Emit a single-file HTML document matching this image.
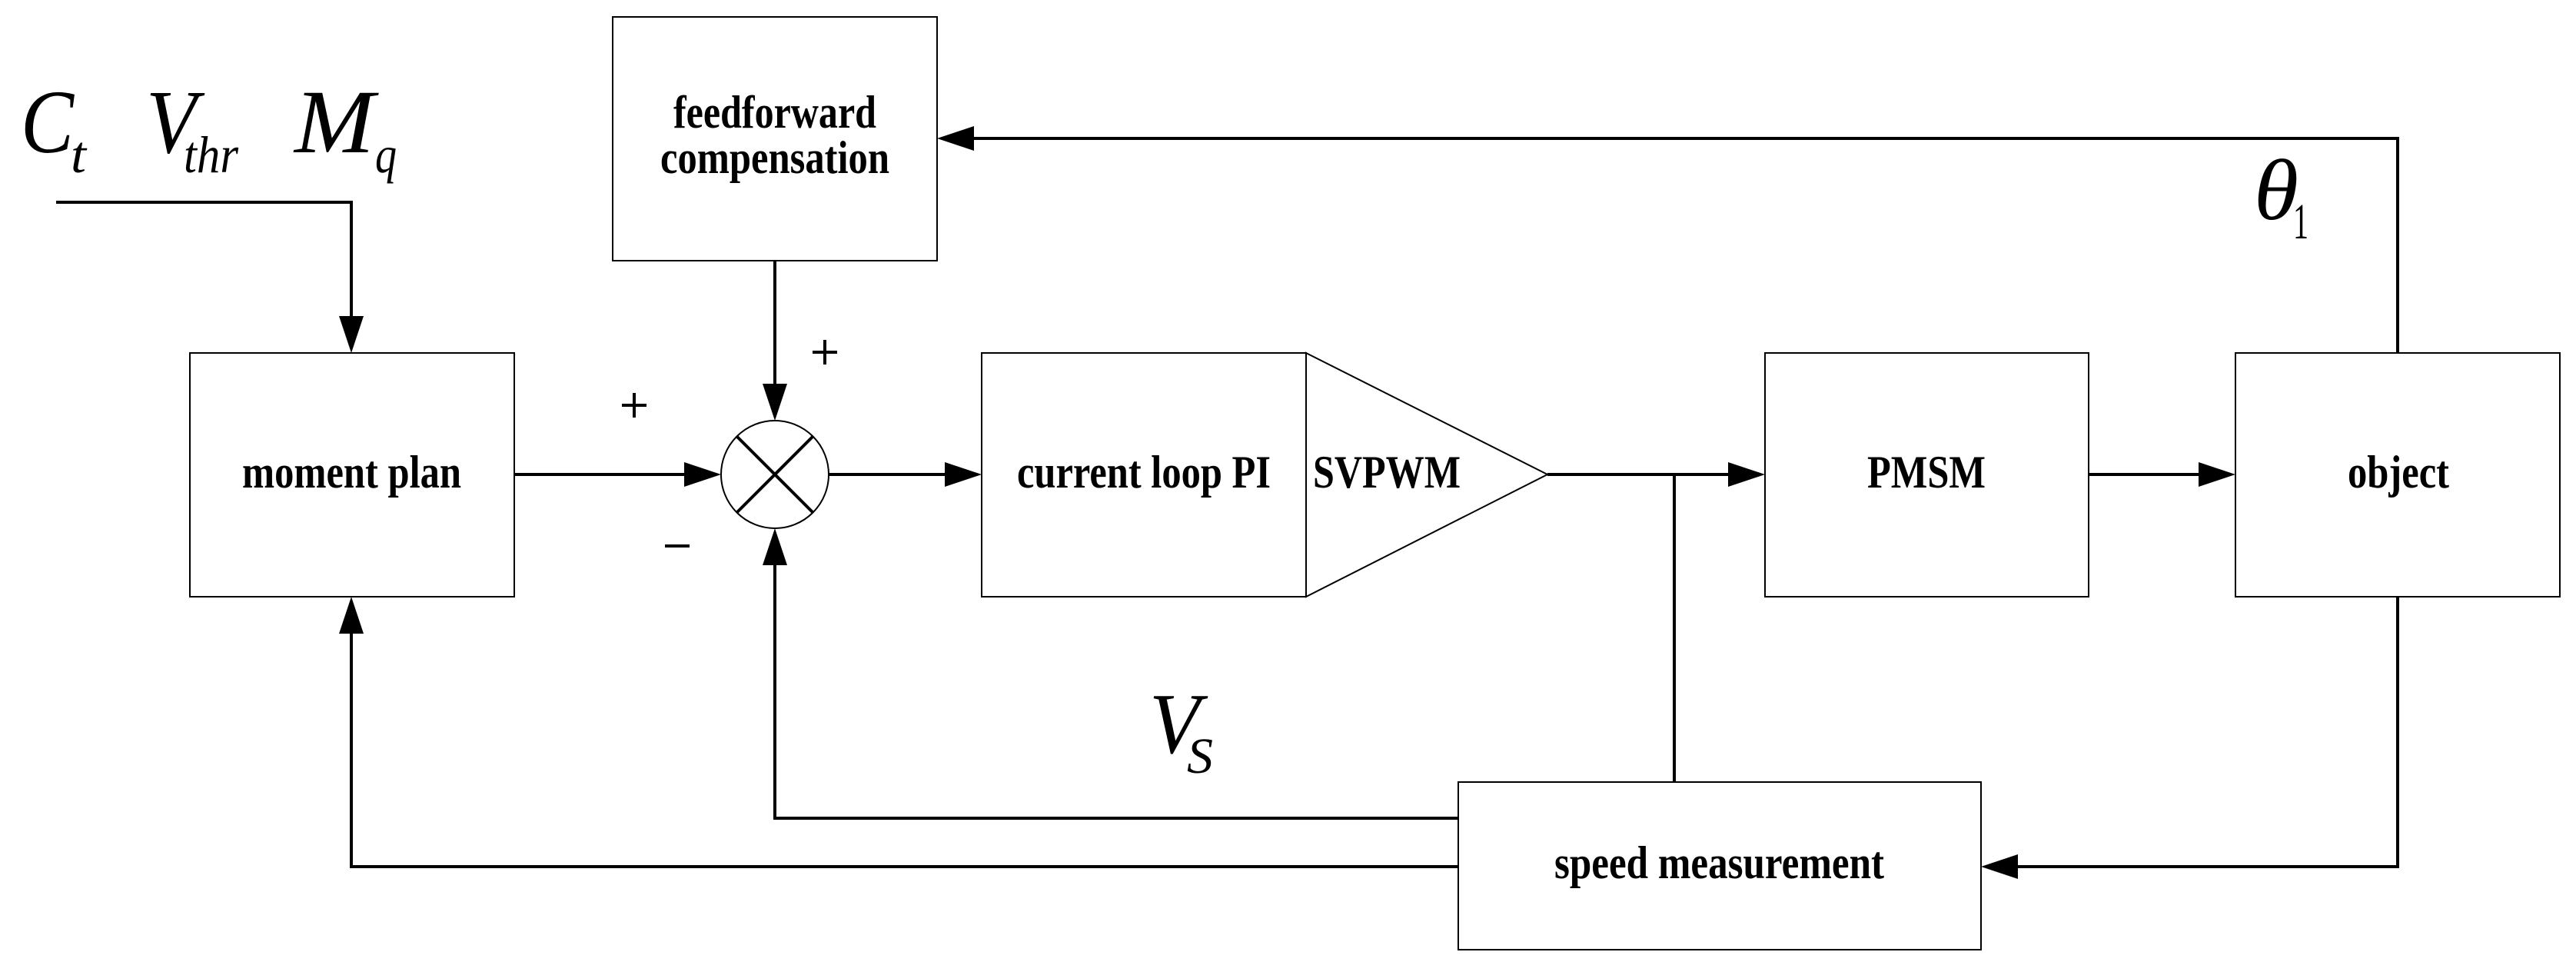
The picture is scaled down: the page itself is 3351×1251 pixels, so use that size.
<!DOCTYPE html>
<html><head><meta charset="utf-8"><style>
html,body{margin:0;padding:0;background:#fff;}
svg{display:block;}
.b{font-family:"Liberation Serif",serif;font-weight:bold;font-size:60px;}
.i{font-family:"Liberation Serif",serif;font-style:italic;}
</style></head><body>
<svg width="3351" height="1251" viewBox="0 0 3351 1251" xmlns="http://www.w3.org/2000/svg">
<g fill="none" stroke="#000" stroke-width="2">
<rect x="797" y="22" width="422" height="317"/>
<rect x="247" y="459" width="422" height="317"/>
<rect x="1277" y="459" width="422" height="317"/>
<polygon points="1699,459 2013,617 1699,776"/>
<rect x="2296" y="459" width="421" height="317"/>
<rect x="2908" y="459" width="422" height="317"/>
<rect x="1897" y="1017" width="680" height="218"/>
<circle cx="1008" cy="617" r="70"/>
</g>
<g fill="none" stroke="#000" stroke-width="4">
<line x1="958" y1="567" x2="1058" y2="667"/>
<line x1="1058" y1="567" x2="958" y2="667"/>
<polyline points="73,263 457,263 457,415"/>
<line x1="1008" y1="339" x2="1008" y2="500"/>
<line x1="669" y1="617" x2="895" y2="617"/>
<line x1="1078" y1="617" x2="1235" y2="617"/>
<line x1="2013" y1="617" x2="2250" y2="617"/>
<line x1="2178" y1="617" x2="2178" y2="1017"/>
<line x1="2717" y1="617" x2="2862" y2="617"/>
<polyline points="3119,459 3119,180 1265,180"/>
<polyline points="3119,776 3119,1127 2620,1127"/>
<polyline points="1897,1064 1008,1064 1008,735"/>
<polyline points="1897,1127 457,1127 457,822"/>
</g>
<g fill="#000">
<polygon points="457,459 441,411 473,411"/>
<polygon points="1008,547 992,499 1024,499"/>
<polygon points="938,617 890,601 890,633"/>
<polygon points="1277,617 1229,601 1229,633"/>
<polygon points="2296,617 2248,601 2248,633"/>
<polygon points="2908,617 2860,601 2860,633"/>
<polygon points="1219,180 1267,164 1267,196"/>
<polygon points="2577,1127 2625,1111 2625,1143"/>
<polygon points="1008,687 992,735 1024,735"/>
<polygon points="457,776 441,824 473,824"/>
</g>
<g stroke="#000" stroke-width="4">
<line x1="809" y1="527" x2="841" y2="527"/><line x1="825" y1="511" x2="825" y2="543"/>
<line x1="1057" y1="458" x2="1089" y2="458"/><line x1="1073" y1="442" x2="1073" y2="474"/>
<line x1="865" y1="710" x2="897" y2="710"/>
</g>
<g class="b" fill="#000">
<text x="876" y="166" textLength="264" lengthAdjust="spacingAndGlyphs">feedforward</text>
<text x="859" y="225" textLength="298" lengthAdjust="spacingAndGlyphs">compensation</text>
<text x="315" y="634" textLength="285" lengthAdjust="spacingAndGlyphs">moment plan</text>
<text x="1323" y="634" textLength="330" lengthAdjust="spacingAndGlyphs">current loop PI</text>
<text x="1708" y="634" textLength="192" lengthAdjust="spacingAndGlyphs">SVPWM</text>
<text x="2429" y="634" textLength="154" lengthAdjust="spacingAndGlyphs">PMSM</text>
<text x="3054" y="634" textLength="132" lengthAdjust="spacingAndGlyphs">object</text>
<text x="2022" y="1142" textLength="429" lengthAdjust="spacingAndGlyphs">speed measurement</text>
</g>
<g class="i" fill="#000">
<text x="27" y="198" font-size="118" textLength="69" lengthAdjust="spacingAndGlyphs">C</text>
<text x="92" y="224" font-size="68" textLength="20" lengthAdjust="spacingAndGlyphs">t</text>
<text x="190" y="198" font-size="118" textLength="66" lengthAdjust="spacingAndGlyphs">V</text>
<text x="239" y="224" font-size="68" textLength="71" lengthAdjust="spacingAndGlyphs">thr</text>
<text x="383" y="198" font-size="118" textLength="104" lengthAdjust="spacingAndGlyphs">M</text>
<text x="488" y="224" font-size="68" textLength="28" lengthAdjust="spacingAndGlyphs">q</text>
<text x="1495" y="979" font-size="112" textLength="66" lengthAdjust="spacingAndGlyphs">V</text>
<text x="1544" y="1005" font-size="66" textLength="34" lengthAdjust="spacingAndGlyphs">S</text>
<text x="2932" y="285" font-size="112" textLength="58" lengthAdjust="spacingAndGlyphs">θ</text>
</g>
<text x="2983" y="310" font-family="Liberation Serif,serif" font-size="66" fill="#000" textLength="20" lengthAdjust="spacingAndGlyphs">1</text>
</svg>
</body></html>
